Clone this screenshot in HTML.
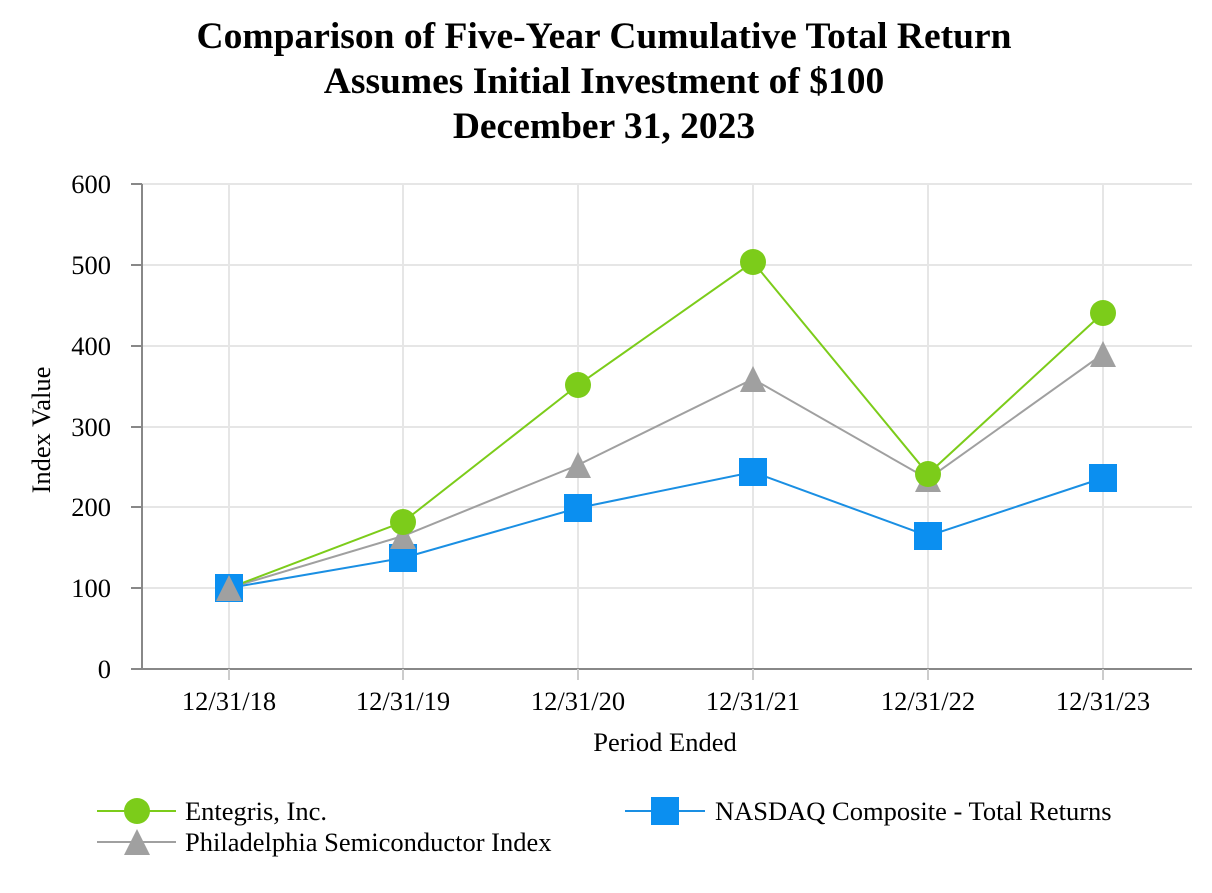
<!DOCTYPE html>
<html><head><meta charset="utf-8"><style>
body{margin:0;background:#fff}
svg text{font-family:"Liberation Serif",serif;fill:#000}
</style></head><body>
<svg width="1212" height="888" viewBox="0 0 1212 888" xmlns="http://www.w3.org/2000/svg">
<g font-weight="bold" font-size="37.5" text-anchor="middle">
<text x="604" y="48">Comparison of Five-Year Cumulative Total Return</text>
<text x="604" y="93">Assumes Initial Investment of $100</text>
<text x="604" y="138">December 31, 2023</text>
</g>
<g stroke="#e6e6e6" stroke-width="2">
<line x1="142" y1="184" x2="1192" y2="184"/><line x1="142" y1="265" x2="1192" y2="265"/>
<line x1="142" y1="346" x2="1192" y2="346"/><line x1="142" y1="427" x2="1192" y2="427"/>
<line x1="142" y1="507" x2="1192" y2="507"/><line x1="142" y1="588" x2="1192" y2="588"/>
<line x1="229" y1="184" x2="229" y2="669"/><line x1="403" y1="184" x2="403" y2="669"/>
<line x1="578" y1="184" x2="578" y2="669"/><line x1="753" y1="184" x2="753" y2="669"/>
<line x1="928" y1="184" x2="928" y2="669"/><line x1="1103" y1="184" x2="1103" y2="669"/>
</g>
<g stroke="#888" stroke-width="2">
<line x1="142" y1="184" x2="142" y2="669"/><line x1="142" y1="669" x2="1192" y2="669"/>
<line x1="131" y1="184" x2="142" y2="184"/><line x1="131" y1="265" x2="142" y2="265"/>
<line x1="131" y1="346" x2="142" y2="346"/><line x1="131" y1="427" x2="142" y2="427"/>
<line x1="131" y1="507" x2="142" y2="507"/><line x1="131" y1="588" x2="142" y2="588"/>
<line x1="131" y1="669" x2="142" y2="669"/>
</g>
<g stroke="#ccc" stroke-width="2">
<line x1="229" y1="669" x2="229" y2="680"/><line x1="403" y1="669" x2="403" y2="680"/>
<line x1="578" y1="669" x2="578" y2="680"/><line x1="753" y1="669" x2="753" y2="680"/>
<line x1="928" y1="669" x2="928" y2="680"/><line x1="1103" y1="669" x2="1103" y2="680"/>
</g>
<g font-size="26.5" text-anchor="end">
<text x="111" y="193">600</text><text x="111" y="274">500</text><text x="111" y="355">400</text>
<text x="111" y="436">300</text><text x="111" y="516">200</text><text x="111" y="597">100</text><text x="111" y="678">0</text>
</g>
<g font-size="26.5" text-anchor="middle">
<text x="229" y="710">12/31/18</text><text x="403" y="710">12/31/19</text><text x="578" y="710">12/31/20</text>
<text x="753" y="710">12/31/21</text><text x="928" y="710">12/31/22</text><text x="1103" y="710">12/31/23</text>
<text x="665" y="751">Period Ended</text>
<text transform="translate(50,430) rotate(-90)">Index Value</text>
</g>
<polyline fill="none" stroke="#1a8fe3" stroke-width="2" points="229,588 403,558 578,508 753,472 928,536 1103,478"/>
<polyline fill="none" stroke="#a0a0a0" stroke-width="2" points="229,588 403,536 578,465 753,379 928,479 1103,354"/>
<polyline fill="none" stroke="#7ccc1a" stroke-width="2" points="229,588 403,522 578,385 753,262 928,474 1103,313"/>
<g fill="#0b8ff0">
<rect x="215" y="574" width="28" height="28"/><rect x="389" y="544" width="28" height="28"/>
<rect x="564" y="494" width="28" height="28"/><rect x="739" y="458" width="28" height="28"/>
<rect x="914" y="522" width="28" height="28"/><rect x="1089" y="464" width="28" height="28"/>
</g>
<g fill="#a0a0a0">
<polygon points="229,575 242,601 216,601"/><polygon points="403,523 416,549 390,549"/>
<polygon points="578,452 591,478 565,478"/><polygon points="753,366 766,392 740,392"/>
<polygon points="928,466 941,492 915,492"/><polygon points="1103,341 1116,367 1090,367"/>
</g>
<g fill="#7ccc1a">
<circle cx="403" cy="522" r="13"/><circle cx="578" cy="385" r="13"/>
<circle cx="753" cy="262" r="13"/><circle cx="928" cy="474" r="13"/><circle cx="1103" cy="313" r="13"/>
</g>
<line x1="97" y1="811" x2="176" y2="811" stroke="#7ccc1a" stroke-width="2"/>
<circle cx="137" cy="811" r="13" fill="#7ccc1a"/>
<line x1="97" y1="842" x2="176" y2="842" stroke="#a0a0a0" stroke-width="2"/>
<polygon points="137,829 150,855 124,855" fill="#a0a0a0"/>
<line x1="625" y1="811" x2="705" y2="811" stroke="#1a8fe3" stroke-width="2"/>
<rect x="651" y="797" width="28" height="28" fill="#0b8ff0"/>
<g font-size="26.5">
<text x="185" y="820">Entegris, Inc.</text>
<text x="185" y="851">Philadelphia Semiconductor Index</text>
<text x="715" y="820">NASDAQ Composite - Total Returns</text>
</g>
</svg>
</body></html>
